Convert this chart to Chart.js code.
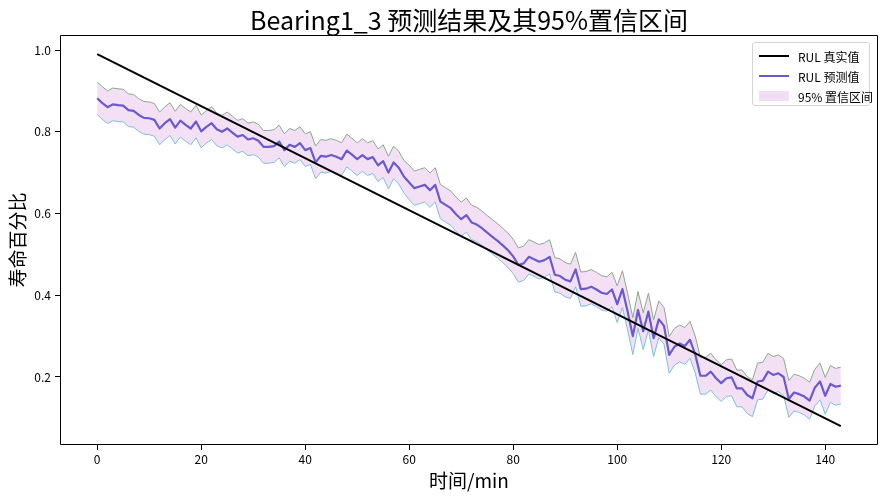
<!DOCTYPE html>
<html>
<head>
<meta charset="utf-8">
<script src="https://cdn.jsdelivr.net/npm/chart.js@4.4.1/dist/chart.umd.min.js"></script>
<style>
html,body{margin:0;padding:0;background:#fff;}
#wrap{position:relative;width:888px;height:500px;}
#legend{position:absolute;left:752px;top:42px;width:118px;height:64px;box-sizing:border-box;border:1px solid #d4d4d4;border-radius:3px;background:rgba(255,255,255,0.85);font-family:"Noto Sans CJK SC","Noto Sans",sans-serif;font-size:12px;color:#000;}
.item{position:absolute;left:6px;height:20px;display:flex;align-items:center;white-space:nowrap;}
.sw{width:30px;margin-right:9px;}
</style>
</head>
<body>
<div id="wrap">
<canvas id="c" width="888" height="500"></canvas>
<div id="legend">
  <div class="item" style="top:3px"><div class="sw" style="height:2px;background:#000"></div><span>RUL 真实值</span></div>
  <div class="item" style="top:23px"><div class="sw" style="height:2px;background:#6a5acd"></div><span>RUL 预测值</span></div>
  <div class="item" style="top:43px"><div class="sw" style="height:10px;background:#f2def4"></div><span>95% 置信区间</span></div>
</div>
</div>
<script>
// ---- data ----
const times = Array.from({length: 144}, (_, i) => i);
const predRUL = [
0.882,0.870,0.860,0.867,0.865,0.864,0.853,0.851,0.841,0.834,
0.833,0.829,0.808,0.821,0.831,0.810,0.827,0.817,0.808,0.825,
0.801,0.812,0.821,0.806,0.800,0.808,0.798,0.788,0.792,0.781,
0.784,0.778,0.763,0.763,0.765,0.776,0.755,0.768,0.763,0.772,
0.755,0.760,0.725,0.741,0.739,0.743,0.739,0.733,0.754,0.744,
0.733,0.743,0.733,0.738,0.718,0.728,0.700,0.725,0.712,0.690,
0.676,0.662,0.666,0.670,0.657,0.670,0.629,0.621,0.613,0.598,
0.586,0.596,0.578,0.573,0.564,0.553,0.543,0.533,0.522,0.510,
0.495,0.474,0.478,0.494,0.488,0.482,0.486,0.494,0.450,0.447,
0.438,0.434,0.463,0.415,0.416,0.421,0.414,0.406,0.403,0.414,
0.378,0.415,0.360,0.300,0.364,0.312,0.360,0.295,0.341,0.325,
0.254,0.274,0.282,0.276,0.291,0.255,0.203,0.203,0.213,0.197,
0.185,0.197,0.199,0.172,0.172,0.156,0.148,0.189,0.191,0.213,
0.205,0.209,0.200,0.146,0.162,0.158,0.152,0.142,0.174,0.189,
0.154,0.183,0.176,0.179];
const upperCI = [
0.922,0.910,0.900,0.907,0.905,0.904,0.893,0.891,0.881,0.874,
0.873,0.869,0.848,0.861,0.871,0.850,0.867,0.857,0.848,0.865,
0.841,0.852,0.861,0.846,0.840,0.848,0.838,0.828,0.832,0.821,
0.824,0.818,0.803,0.803,0.805,0.816,0.795,0.808,0.803,0.812,
0.795,0.800,0.765,0.781,0.779,0.783,0.779,0.773,0.794,0.784,
0.773,0.783,0.773,0.778,0.758,0.768,0.740,0.765,0.752,0.730,
0.718,0.704,0.708,0.712,0.699,0.712,0.671,0.663,0.655,0.640,
0.628,0.638,0.620,0.615,0.606,0.595,0.585,0.575,0.564,0.552,
0.537,0.516,0.520,0.536,0.530,0.524,0.528,0.536,0.492,0.489,
0.480,0.476,0.505,0.457,0.458,0.463,0.456,0.448,0.445,0.456,
0.423,0.460,0.405,0.345,0.409,0.357,0.405,0.340,0.386,0.370,
0.299,0.319,0.327,0.321,0.336,0.300,0.248,0.248,0.258,0.242,
0.230,0.242,0.244,0.217,0.217,0.201,0.193,0.234,0.236,0.258,
0.250,0.254,0.245,0.191,0.207,0.203,0.197,0.187,0.219,0.234,
0.199,0.228,0.221,0.224];
const lowerCI = [
0.842,0.830,0.820,0.827,0.825,0.824,0.813,0.811,0.801,0.794,
0.793,0.789,0.768,0.781,0.791,0.770,0.787,0.777,0.768,0.785,
0.761,0.772,0.781,0.766,0.760,0.768,0.758,0.748,0.752,0.741,
0.744,0.738,0.723,0.723,0.725,0.736,0.715,0.728,0.723,0.732,
0.715,0.720,0.685,0.701,0.699,0.703,0.699,0.693,0.714,0.704,
0.693,0.703,0.693,0.698,0.678,0.688,0.660,0.685,0.672,0.650,
0.634,0.620,0.624,0.628,0.615,0.628,0.587,0.579,0.571,0.556,
0.544,0.554,0.536,0.531,0.522,0.511,0.501,0.491,0.480,0.468,
0.453,0.432,0.436,0.452,0.446,0.440,0.444,0.452,0.408,0.405,
0.396,0.392,0.421,0.373,0.374,0.379,0.372,0.364,0.361,0.372,
0.333,0.370,0.315,0.255,0.319,0.267,0.315,0.250,0.296,0.280,
0.209,0.229,0.237,0.231,0.246,0.210,0.158,0.158,0.168,0.152,
0.140,0.152,0.154,0.127,0.127,0.111,0.103,0.144,0.146,0.168,
0.160,0.164,0.155,0.101,0.117,0.113,0.107,0.097,0.129,0.144,
0.109,0.138,0.131,0.134];
const trueX = [0, 143];
const trueRUL = [0.99, 0.08];
const xTicks = [0, 20, 40, 60, 80, 100, 120, 140];
const yTicks = [0.2, 0.4, 0.6, 0.8, 1.0];

// ---- chart ----
const FONT = '"Noto Sans CJK SC", "Noto Sans", sans-serif';
const pts = (xs, ys) => xs.map((x, i) => ({x: x, y: ys[i]}));

const framePlugin = {
  id: 'axesFrame',
  afterDraw(chart) {
    const a = chart.chartArea, ctx = chart.ctx;
    const l = Math.round(a.left) + 0.5, r = Math.round(a.right) - 0.5;
    const t = Math.round(a.top) + 0.5, b = Math.round(a.bottom) - 0.5;
    ctx.save();
    ctx.strokeStyle = '#000';
    ctx.lineWidth = 1;
    ctx.beginPath();
    ctx.moveTo(l, b); ctx.lineTo(l, t); ctx.lineTo(r, t); ctx.lineTo(r, b); ctx.lineTo(l, b);
    ctx.stroke();
    ctx.restore();
  }
};

new Chart(document.getElementById('c'), {
  type: 'line',
  data: {
    datasets: [
      {label: '95% 置信区间', data: pts(times, upperCI), borderColor: '#8aa98a', borderWidth: 1,
       backgroundColor: 'rgba(218,160,225,0.32)', fill: '+1', order: 4},
      {label: 'lower', data: pts(times, lowerCI), borderColor: '#7cbfd8', borderWidth: 1,
       fill: false, order: 3},
      {label: 'RUL 预测值', data: pts(times, predRUL), borderColor: '#6a5acd', borderWidth: 2.2,
       fill: false, order: 2},
      {label: 'RUL 真实值', data: pts(trueX, trueRUL), borderColor: '#000000', borderWidth: 2,
       fill: false, order: 1}
    ]
  },
  options: {
    responsive: false,
    devicePixelRatio: 1,
    animation: false,
    events: [],
    layout: {padding: {left: 0, right: 10, top: 0, bottom: 0}},
    elements: {point: {radius: 0}, line: {tension: 0, borderCapStyle: 'butt', borderJoinStyle: 'round'}},
    plugins: {
      legend: {display: false},
      tooltip: {enabled: false},
      title: {
        display: true, fullSize: false,
        text: 'Bearing1_3 预测结果及其95%置信区间',
        color: '#000',
        font: {family: FONT, size: 25, weight: 'normal', lineHeight: 1.2},
        padding: {top: 5, bottom: 0}
      }
    },
    scales: {
      x: {
        type: 'linear', min: -7.15, max: 150.15,
        afterFit(s) { s.height = 55; },
        afterBuildTicks(s) { s.ticks = xTicks.map(v => ({value: v})); },
        grid: {drawOnChartArea: false, drawTicks: true, tickLength: 5, color: '#000'},
        border: {display: false},
        ticks: {color: '#000', font: {family: FONT, size: 12}, padding: 2, maxRotation: 0,
                callback: v => String(v)},
        title: {display: true, text: '时间/min', color: '#000',
                font: {family: FONT, size: 19, lineHeight: 1.2}, padding: {top: 0, bottom: 8}}
      },
      y: {
        type: 'linear', min: 0.0336, max: 1.0367,
        afterFit(s) { s.width = 60; },
        afterBuildTicks(s) { s.ticks = yTicks.map(v => ({value: v})); },
        grid: {drawOnChartArea: false, drawTicks: true, tickLength: 5, color: '#000'},
        border: {display: false},
        ticks: {color: '#000', font: {family: FONT, size: 12}, padding: 4,
                callback: v => Number(v).toFixed(1)},
        title: {display: true, text: '寿命百分比', color: '#000',
                font: {family: FONT, size: 19, lineHeight: 1.2}, padding: {top: 6, bottom: 0}}
      }
    }
  },
  plugins: [framePlugin]
});
</script>
</body>
</html>
